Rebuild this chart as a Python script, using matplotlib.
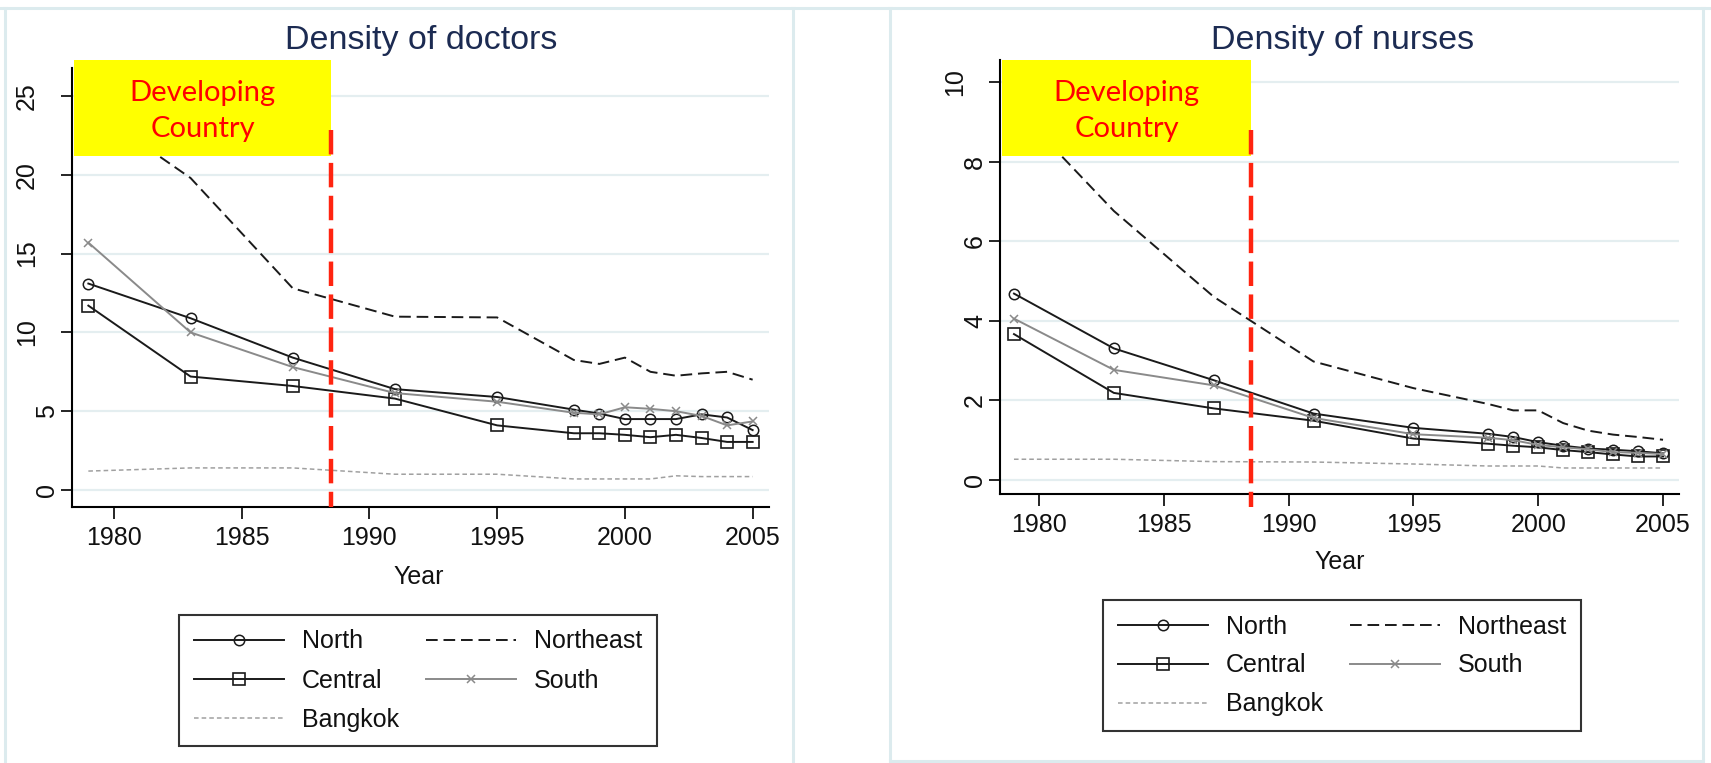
import matplotlib
matplotlib.use('Agg')
import matplotlib.pyplot as plt
import matplotlib.transforms as mtransforms
from matplotlib import font_manager
from matplotlib.lines import Line2D
from matplotlib.patches import Rectangle

# datos: densidad por región (años de encuesta)
years = [1979, 1983, 1987, 1991, 1995, 1998, 1999, 2000, 2001, 2002, 2003, 2004, 2005]

doc_north = [13.1, 10.9, 8.4, 6.4, 5.9, 5.1, 4.85, 4.5, 4.5, 4.5, 4.8, 4.6, 3.8]
doc_central = [11.7, 7.2, 6.6, 5.8, 4.1, 3.6, 3.6, 3.5, 3.35, 3.5, 3.3, 3.05, 3.05]
doc_south = [15.7, 10.0, 7.8, 6.15, 5.6, 4.9, 4.8, 5.25, 5.15, 5.0, 4.7, 4.1, 4.35]
doc_northeast = [24.3, 19.8, 12.8, 11.0, 10.95, 8.25, 8.0, 8.4, 7.5, 7.25, 7.4, 7.5, 7.0]
doc_bangkok = [1.2, 1.4, 1.4, 1.0, 1.0, 0.7, 0.7, 0.7, 0.7, 0.9, 0.85, 0.85, 0.85]

nur_north = [4.68, 3.3, 2.5, 1.66, 1.3, 1.15, 1.07, 0.94, 0.85, 0.78, 0.75, 0.71, 0.66]
nur_central = [3.66, 2.18, 1.79, 1.48, 1.03, 0.9, 0.85, 0.81, 0.74, 0.69, 0.63, 0.58, 0.58]
nur_south = [4.05, 2.76, 2.37, 1.55, 1.14, 1.05, 0.99, 0.87, 0.81, 0.76, 0.69, 0.67, 0.64]
nur_northeast = [9.4, 6.76, 4.6, 2.97, 2.3, 1.9, 1.74, 1.74, 1.42, 1.23, 1.13, 1.07, 1.0]
nur_bangkok = [0.51, 0.51, 0.45, 0.44, 0.39, 0.34, 0.34, 0.34, 0.29, 0.29, 0.29, 0.29, 0.29]

regions = ['North', 'Central', 'Bangkok', 'Northeast', 'South']   # orden de la leyenda (2 columnas)
xticks = [1980, 1985, 1990, 1995, 2000, 2005]
doc_yticks = [0, 5, 10, 15, 20, 25]
nur_yticks = [0, 2, 4, 6, 8, 10]
cutoff = 1988.5   # fin de "developing country"

W, H = 1711, 763   # tamaño en pixeles

names = {f.name for f in font_manager.fontManager.ttflist}
narrow = 'Liberation Sans Narrow' if 'Liberation Sans Narrow' in names else 'Liberation Sans'
fs = 20 if narrow == 'Liberation Sans Narrow' else 18   # tamaño texto de ejes y leyenda

ink = '#1a1a1a'
styles = {
    'North': dict(color=ink, lw=1.4, marker='o', ms=7.5, mfc='none', mec=ink, mew=1.1),
    'Central': dict(color=ink, lw=1.4, marker='s', ms=8.5, mfc='none', mec=ink, mew=1.2),
    'Northeast': dict(color=ink, lw=1.4, ls=(0, (6, 3))),
    'South': dict(color='#8a8a8a', lw=1.4, marker='x', ms=6, mec='#8a8a8a', mew=1.1),
    'Bangkok': dict(color='#a0a0a0', lw=1.1, ls=(0, (3, 2))),
}


def fx(px):
    return px / W


def fy(py):
    return 1 - py / H


fig = plt.figure(figsize=(W / 100, H / 100), dpi=100)
fig.patch.set_facecolor('white')

# marcos de los paneles
border = '#dcebee'
for (x0, y0, x1, y1) in [(0, 8, W, 8), (5, 8, 5, H), (793, 8, 793, H), (890, 8, 890, 761),
                         (1703, 8, 1703, 761), (890, 761, 1703, 761)]:
    fig.add_artist(Line2D([fx(x0), fx(x1)], [fy(y0), fy(y1)], transform=fig.transFigure,
                          color=border, lw=2.2))


def panel(rect, xlim, ylim, yticks, data, title, title_x, year_xy, leg_xy, box_top, box_bottom):
    x0, y0, x1, y1 = rect
    ax = fig.add_axes([fx(x0), fy(y1), fx(x1) - fx(x0), (y1 - y0) / H])
    for name in ['North', 'Central', 'Northeast', 'South', 'Bangkok']:
        ax.plot(years, data[name], label=name, clip_on=False, **styles[name])
    ax.set_xlim(*xlim)
    ax.set_ylim(*ylim)

    ax.spines['top'].set_visible(False)
    ax.spines['right'].set_visible(False)
    ax.spines['left'].set_linewidth(1.5)
    ax.spines['bottom'].set_linewidth(1.5)

    ax.set_xticks(xticks)
    ax.set_xticklabels([str(t) for t in xticks], fontsize=fs, family=narrow, color='#111111')
    ax.set_yticks(yticks)
    ax.tick_params(axis='x', direction='out', length=8.5, width=1.2, pad=5)
    ax.tick_params(axis='y', direction='out', length=8, width=1.2, labelleft=False)
    ax.yaxis.grid(True, color='#e4eef0', lw=1.6)
    ax.set_axisbelow(True)

    # etiquetas verticales del eje y
    for v in yticks:
        s = str(v)
        dx = -33 if len(s) > 1 else -13
        tr = ax.get_yaxis_transform() + mtransforms.ScaledTranslation(dx / 100, 0, fig.dpi_scale_trans)
        ax.text(0, v, s, transform=tr, rotation=90, ha='right', va='center',
                fontsize=fs, family=narrow, color='#111111', clip_on=False)

    fig.text(fx(title_x), fy(41), title, ha='center', va='center', fontsize=24.5,
             family='Liberation Sans', color='#1c2b52')
    fig.text(fx(year_xy[0]), fy(year_xy[1]), 'Year', ha='center', va='center', fontsize=fs,
             family=narrow, color='#111111')

    # recuadro amarillo y línea de corte
    blend = mtransforms.blended_transform_factory(ax.transData, fig.transFigure)
    left = xlim[0] + 0.08
    ax.add_patch(Rectangle((left, fy(box_bottom)), cutoff - left, (box_bottom - box_top) / H,
                           transform=blend, facecolor='#ffff00', edgecolor='none',
                           clip_on=False, zorder=5))
    ax.plot([cutoff, cutoff], [fy(130), fy(507)], transform=blend, color='#ff2410', lw=3.2,
            ls=(0, (5.5, 1.9)), clip_on=False, zorder=6)
    ax.text((left + cutoff) / 2, fy((box_top + box_bottom) / 2 + 3), 'Developing\nCountry',
            transform=blend, ha='center', va='center', fontsize=21, family='Lato',
            color='#ff0000', linespacing=1.5, zorder=7)

    handles = [Line2D([], [], **styles[n]) for n in regions]
    leg = fig.legend(handles, regions, loc='upper left', bbox_to_anchor=(fx(leg_xy[0]), fy(leg_xy[1])),
                     ncol=2, frameon=True, fancybox=False, edgecolor='black',
                     prop=dict(family=narrow, size=fs), handlelength=3.6, handletextpad=0.72,
                     columnspacing=1.1, labelspacing=0.6, borderpad=0.58, borderaxespad=0)
    leg.get_frame().set_linewidth(1.5)
    for t in leg.get_texts():
        t.set_color('#111111')
    return ax


doc = {'North': doc_north, 'Central': doc_central, 'Northeast': doc_northeast,
       'South': doc_south, 'Bangkok': doc_bangkok}
nur = {'North': nur_north, 'Central': nur_central, 'Northeast': nur_northeast,
       'South': nur_south, 'Bangkok': nur_bangkok}

panel((72, 68, 769, 507), (1978.36, 2005.64), (-1.08, 26.78), doc_yticks, doc,
      'Density of doctors', 421, (419, 577), (179, 615), 60, 156)
panel((1000, 60, 1679, 494), (1978.44, 2005.64), (-0.365, 10.56), nur_yticks, nur,
      'Density of nurses', 1343, (1340, 562), (1103, 600), 60, 156)

fig.savefig('out.png', dpi=100)
